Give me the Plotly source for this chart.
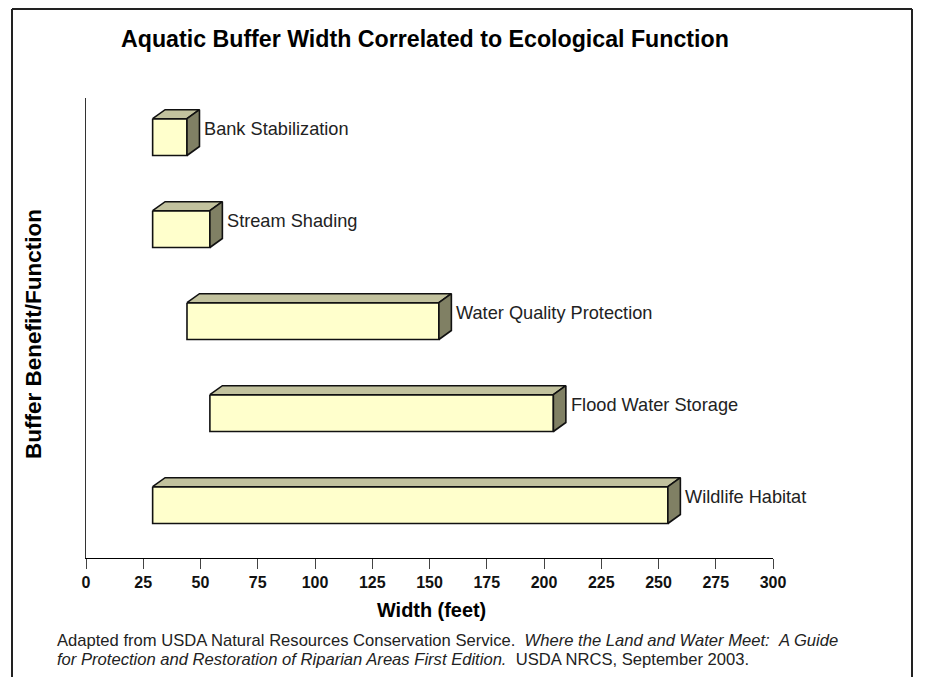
import plotly.graph_objects as go

# ---- data ----
categories = ["Bank Stabilization", "Stream Shading", "Water Quality Protection",
              "Flood Water Storage", "Wildlife Habitat"]
width_min = [30, 30, 45, 55, 30]
width_max = [45, 55, 155, 205, 255]
x_ticks = [0, 25, 50, 75, 100, 125, 150, 175, 200, 225, 250, 275, 300]

title_text = "Aquatic Buffer Width Correlated to Ecological Function"
x_title = "Width (feet)"
y_title = "Buffer Benefit/Function"
caption1 = ("Adapted from USDA Natural Resources Conservation Service.&nbsp;&nbsp;"
            "<i>Where the Land and Water Meet:&nbsp;&nbsp;A Guide</i>")
caption2 = ("<i>for Protection and Restoration of Riparian Areas First Edition.</i>"
            "&nbsp;&nbsp;USDA NRCS, September 2003.")

# ---- style ----
FRONT = "#FFFFCC"
TOP = "#C2C29E"
SIDE = "#808064"
EDGE = "#111111"
FONT = "Liberation Sans, Arial, sans-serif"
BAR_H = 0.40      # bar thickness in category units
Y_OFF = -0.075    # front face offset from category centre
X_SHIFT = -0.9    # projection shift of front face (x units)
DX = 5.45         # depth in x units
DY = 0.098        # depth in y units

# page offset (body margin) and plot area in screen pixels
OFF = 8
W, H = 930, 677
SL, SR, ST, SB = 86, 773, 98, 558
L, R, T, B = SL - OFF, SR - OFF, ST - OFF, SB - OFF
PW, PH = R - L, B - T


def px(xs):
    return (xs - SL) / PW


def py(ys):
    return (SB - ys) / PH


fig = go.Figure()

for i, (lo, hi) in enumerate(zip(width_min, width_max)):
    yc = i + Y_OFF
    yt = yc - BAR_H / 2
    yb = yc + BAR_H / 2
    x0 = lo + X_SHIFT
    x1 = hi + X_SHIFT
    # front face
    fig.add_trace(go.Scatter(
        x=[x0, x1, x1, x0, x0], y=[yt, yt, yb, yb, yt],
        mode="lines", fill="toself", fillcolor=FRONT,
        line=dict(color=EDGE, width=1.6), hoverinfo="skip", showlegend=False))
    # top face
    fig.add_trace(go.Scatter(
        x=[x0, x0 + DX, x1 + DX, x1, x0], y=[yt, yt - DY, yt - DY, yt, yt],
        mode="lines", fill="toself", fillcolor=TOP,
        line=dict(color=EDGE, width=1.6), hoverinfo="skip", showlegend=False))
    # side face
    fig.add_trace(go.Scatter(
        x=[x1, x1 + DX, x1 + DX, x1, x1], y=[yt, yt - DY, yb - DY, yb, yt],
        mode="lines", fill="toself", fillcolor=SIDE,
        line=dict(color=EDGE, width=1.6), hoverinfo="skip", showlegend=False))
    # label
    fig.add_annotation(x=x1 + DX, y=i - 0.165, xref="x", yref="y",
                       text=categories[i], showarrow=False, xanchor="left",
                       yanchor="middle", xshift=3,
                       font=dict(family=FONT, size=18.2, color="#222222"))

annos = [
    dict(x=px(424.5), y=py(39.5), text="<b>" + title_text + "</b>", size=23.2, color="#000000"),
    dict(x=px(431.5), y=py(610), text="<b>" + x_title + "</b>", size=19.9, color="#000000"),
]
for a in annos:
    fig.add_annotation(x=a["x"], y=a["y"], xref="paper", yref="paper", text=a["text"],
                       showarrow=False, xanchor="center", yanchor="middle",
                       font=dict(family=FONT, size=a["size"], color=a["color"]))

fig.add_annotation(x=px(33), y=py(334), xref="paper", yref="paper",
                   text="<b>" + y_title + "</b>", textangle=-90, showarrow=False,
                   xanchor="center", yanchor="middle",
                   font=dict(family=FONT, size=22.5, color="#000000"))

for txt, ys in [(caption1, 640), (caption2, 659.5)]:
    fig.add_annotation(x=px(55), y=py(ys), xref="paper", yref="paper", text=txt,
                       showarrow=False, xanchor="left", yanchor="middle",
                       font=dict(family=FONT, size=16.6, color="#222222"))

# outer frame (left, top, right)
fx0, fx1, fy0, fy1 = px(12), px(912), py(700), py(9)
fig.add_shape(type="line", xref="paper", yref="paper", x0=fx0, x1=fx0, y0=fy0, y1=fy1,
              line=dict(color="#222222", width=2))
fig.add_shape(type="line", xref="paper", yref="paper", x0=fx0, x1=fx1, y0=fy1, y1=fy1,
              line=dict(color="#222222", width=2))
fig.add_shape(type="line", xref="paper", yref="paper", x0=fx1, x1=fx1, y0=fy0, y1=fy1,
              line=dict(color="#222222", width=2))

fig.update_layout(
    width=W, height=H,
    margin=dict(l=L, r=W - R, t=T, b=H - B, pad=0),
    paper_bgcolor="white", plot_bgcolor="white",
    showlegend=False,
    xaxis=dict(range=[0, 300], tickvals=x_ticks, ticktext=[str(v) for v in x_ticks],
               showgrid=False, zeroline=False, showline=True, linecolor="#000000",
               linewidth=1, ticks="outside", ticklen=10, tickcolor="#444444",
               tickwidth=1,
               tickfont=dict(family=FONT, size=16, color="#111111", weight="bold"),
               fixedrange=True),
    yaxis=dict(range=[len(categories) - 0.5, -0.5], showgrid=False, zeroline=False,
               showline=True, linecolor="#333333", linewidth=1, showticklabels=False,
               ticks="", fixedrange=True),
)

fig.write_html("out.html")
